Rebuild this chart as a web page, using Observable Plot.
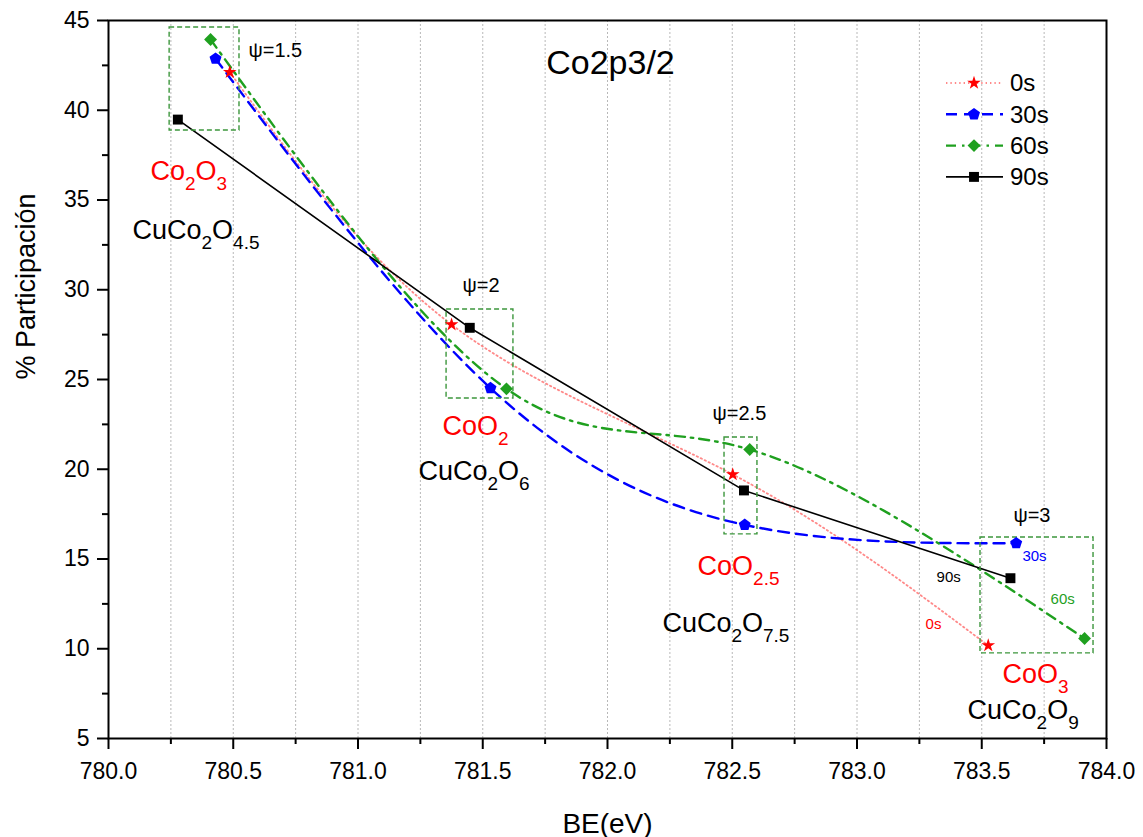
<!DOCTYPE html>
<html>
<head>
<meta charset="utf-8">
<script src="https://cdn.jsdelivr.net/npm/d3@7"></script>
<script src="https://cdn.jsdelivr.net/npm/@observablehq/plot@0.6"></script>
<style>
  body { margin: 0; background: #fff; font-family: Arial, "Liberation Sans", sans-serif; }
  #wrap { position: relative; width: 1143px; height: 837px; }
  #legend { position: absolute; left: 940px; top: 65px; }
</style>
</head>
<body>
<div id="wrap"></div>
<script>
// Etching times (series) and their colours
const series = ["0s", "30s", "60s", "90s"];
const seriesColors = ["#ff0000", "#0000ff", "#1fa01f", "#000000"];

// Binding energy (eV) and % participation of each Co2p3/2 component
const be0s = [780.486, 781.375, 782.502, 783.526];
const pct0s = [42.12, 28.06, 19.71, 10.18];
const be30s = [780.429, 781.531, 782.550, 783.638];
const pct30s = [42.87, 24.52, 16.90, 15.88];
const be60s = [780.409, 781.595, 782.570, 783.912];
const pct60s = [43.94, 24.48, 21.10, 10.57];
const be90s = [780.278, 781.448, 782.547, 783.615];
const pct90s = [39.48, 27.88, 18.82, 13.93];

// Oxidation-state groups (psi) and the box that encloses each group
const psiLabels = ["ψ=1.5", "ψ=2", "ψ=2.5", "ψ=3"];
const psiBE = [780.561, 781.419, 782.421, 783.627];
const psiPct = [43.33, 30.24, 23.11, 17.42];
const boxBE1 = [780.245, 781.355, 782.469, 783.495];
const boxBE2 = [780.525, 781.623, 782.601, 783.948];
const boxPct1 = [38.87, 23.94, 16.37, 9.74];
const boxPct2 = [44.61, 28.90, 21.77, 16.20];

// Oxide formulas (subscripts written as _{...})
const formulaText = ["Co_{2}O_{3}", "CuCo_{2}O_{4.5}", "CoO_{2}", "CuCo_{2}O_{6}",
                     "CoO_{2.5}", "CuCo_{2}O_{7.5}", "CoO_{3}", "CuCo_{2}O_{9}"];
const formulaKind = ["Co", "CuCo", "Co", "CuCo", "Co", "CuCo", "Co", "CuCo"];
const formulaBE = [780.168, 780.096, 781.339, 781.242, 782.361, 782.220, 783.583, 783.443];
const formulaPct = [36.62, 33.33, 22.41, 19.90, 14.61, 11.43, 8.59, 6.59];

// Series names written next to the last point of each curve
const tagText = ["0s", "30s", "60s", "90s"];
const tagBE = [783.275, 783.663, 783.776, 783.319];
const tagPct = [11.35, 15.14, 12.74, 13.97];

const titleText = "Co2p3/2";
const titleBE = 782.012;
const titlePct = 42.63;

const xMajor = d3.range(780, 784.001, 0.5);
const xMinor = d3.range(780.25, 784, 0.5);
const yMajor = d3.range(5, 45.001, 5);
const yMinor = d3.range(7.5, 45, 5);
const gridBE = d3.range(780.25, 783.9, 0.25);

// ---- tables built from the arrays above ----
const beBySeries = [be0s, be30s, be60s, be90s];
const pctBySeries = [pct0s, pct30s, pct60s, pct90s];
const points = series.flatMap((s, i) =>
  beBySeries[i].map((be, j) => ({series: s, be, pct: pctBySeries[i][j]})));
const boxes = psiLabels.map((p, i) => ({x1: boxBE1[i], x2: boxBE2[i], y1: boxPct1[i], y2: boxPct2[i]}));
const psis = psiLabels.map((t, i) => ({t, be: psiBE[i], pct: psiPct[i]}));
const formulas = formulaText.map((t, i) => ({t, kind: formulaKind[i], be: formulaBE[i], pct: formulaPct[i]}));
const tags = tagText.map((t, i) => ({t, be: tagBE[i], pct: tagPct[i]}));

const pentagon = {
  draw(ctx, size) {
    const R = Math.sqrt(size / Math.PI);
    for (let k = 0; k < 5; ++k) {
      const a = -Math.PI / 2 + k * 2 * Math.PI / 5;
      const px = R * Math.cos(a), py = R * Math.sin(a);
      if (k) ctx.lineTo(px, py); else ctx.moveTo(px, py);
    }
    ctx.closePath();
  }
};

const style = {
  "0s":  {curve: "natural", stroke: "#ff3b3b", strokeOpacity: 0.6, strokeWidth: 1.8, strokeDasharray: "1.4,3", symbol: "star", r: 4.3},
  "30s": {curve: "natural", stroke: "#0000ff", strokeOpacity: 1, strokeWidth: 2.4, strokeDasharray: "11,7", symbol: pentagon, r: 6.3},
  "60s": {curve: "natural", stroke: "#1fa01f", strokeOpacity: 1, strokeWidth: 2.4, strokeDasharray: "10,6,2.5,6", symbol: "diamond2", r: 5.8},
  "90s": {curve: "linear", stroke: "#000000", strokeOpacity: 1, strokeWidth: 1.6, strokeDasharray: null, symbol: "square", r: 5.6}
};
const kindColor = {Co: "#ff0000", CuCo: "#000000"};
const tagColor = Object.fromEntries(series.map((s, i) => [s, seriesColors[i]]));

const lineMarks = series.map(s => Plot.line(points.filter(d => d.series === s), {
  x: "be", y: "pct", curve: style[s].curve, stroke: style[s].stroke,
  strokeOpacity: style[s].strokeOpacity, strokeWidth: style[s].strokeWidth,
  strokeDasharray: style[s].strokeDasharray
}));
const dotMarks = series.map((s, i) => Plot.dot(points.filter(d => d.series === s), {
  x: "be", y: "pct", symbol: () => style[s].symbol, r: style[s].r, fill: seriesColors[i], stroke: "none"
}));

const chart = Plot.plot({
  width: 1143,
  height: 837,
  marginLeft: 108,
  marginRight: 37,
  marginTop: 20,
  marginBottom: 99,
  style: {fontFamily: "Arial, 'Liberation Sans', sans-serif", background: "#fff"},
  x: {domain: [780, 784]},
  y: {domain: [5, 45]},
  symbol: {type: "identity"},
  marks: [
    Plot.ruleX(gridBE, {stroke: "#b8b8b8", strokeWidth: 1, strokeDasharray: "2,2"}),
    ...lineMarks,
    Plot.rect(boxes, {x1: "x1", x2: "x2", y1: "y1", y2: "y2", fill: "none", stroke: "#3c963c", strokeWidth: 1.4, strokeDasharray: "5,3"}),
    ...dotMarks,
    Plot.text(psis, {x: "be", y: "pct", text: "t", textAnchor: "start", fontSize: 20, fill: "#000"}),
    Plot.text(formulas, {x: "be", y: "pct", text: "t", textAnchor: "start", fontSize: 27, fill: d => kindColor[d.kind], className: "formula"}),
    Plot.text(tags, {x: "be", y: "pct", text: "t", textAnchor: "start", fontSize: 15, fill: d => tagColor[d.t]}),
    Plot.text([titleText], {x: titleBE, y: titlePct, text: d => d, fontSize: 34, fill: "#000"}),
    Plot.axisX({ticks: xMajor, tickFormat: d3.format(".1f"), tickSize: 11, tickPadding: 13, fontSize: 23, strokeWidth: 2, label: null}),
    Plot.axisX({ticks: xMinor, tickFormat: () => "", tickSize: 6, strokeWidth: 2, label: null}),
    Plot.axisY({ticks: yMajor, tickFormat: d => String(d), tickSize: 11, tickPadding: 8, fontSize: 23, strokeWidth: 2, label: null}),
    Plot.axisY({ticks: yMinor, tickFormat: () => "", tickSize: 6, strokeWidth: 2, label: null}),
    Plot.text(["BE(eV)"], {frameAnchor: "bottom", lineAnchor: "bottom", dy: 94, fontSize: 28, fill: "#000"}),
    Plot.text(["% Participación"], {frameAnchor: "left", rotate: -90, dx: -82, fontSize: 27, fill: "#000"}),
    Plot.frame({stroke: "#000", strokeWidth: 2})
  ]
});

// Turn the _{...} parts of each formula into lowered, smaller tspans
d3.select(chart).selectAll("g.formula text").each(function () {
  const src = this.textContent;
  const t = d3.select(this);
  t.text(null);
  let lowered = false;
  src.split(/(_\{[^}]*\})/).filter(p => p.length).forEach(p => {
    const isSub = p.startsWith("_{");
    const span = t.append("tspan").text(isSub ? p.slice(2, -1) : p);
    if (isSub) { span.attr("font-size", 19).attr("dy", lowered ? 0 : 10); lowered = true; }
    else if (lowered) { span.attr("dy", -10); lowered = false; }
  });
});

const wrap = document.getElementById("wrap");
wrap.appendChild(chart);

// Legend: line sample, marker and series name per row
const lg = d3.select(wrap).append("svg").attr("id", "legend").attr("width", 150).attr("height", 130)
  .attr("font-family", "Arial, 'Liberation Sans', sans-serif");
series.forEach((s, i) => {
  const y = 18 + i * 31.3;
  const st = style[s];
  lg.append("line").attr("x1", 6).attr("x2", 63).attr("y1", y).attr("y2", y)
    .attr("stroke", st.stroke).attr("stroke-opacity", st.strokeOpacity).attr("stroke-width", st.strokeWidth)
    .attr("stroke-dasharray", st.strokeDasharray);
  const symType = st.symbol === pentagon ? pentagon
    : st.symbol === "star" ? d3.symbolStar
    : st.symbol === "diamond2" ? d3.symbolDiamond2 : d3.symbolSquare;
  lg.append("path").attr("transform", `translate(34,${y})`)
    .attr("d", d3.symbol(symType, Math.PI * st.r * st.r)()).attr("fill", seriesColors[i]);
  lg.append("text").attr("x", 70).attr("y", y).attr("dy", "0.35em").attr("font-size", 24).text(s);
});
</script>
</body>
</html>
